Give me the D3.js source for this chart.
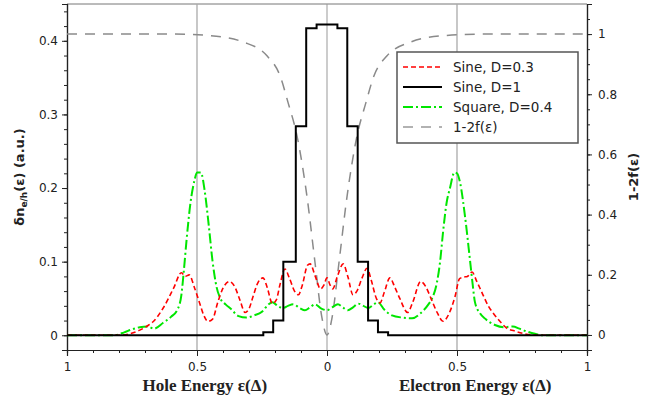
<!DOCTYPE html>
<html>
<head>
<meta charset="utf-8">
<script src="https://cdn.jsdelivr.net/npm/d3@7"></script>
<style>
  body { margin: 0; background: #fff; }
  svg { display: block; }
  .tick text { font-family: "DejaVu Sans", sans-serif; font-size: 12px; fill: #222; }
  .domain { stroke: #222; stroke-width: 1.2; }
  .tick line { stroke: #222; }
</style>
</head>
<body>
<div id="chart"></div>
<script>
// ===== Data =====
// energy axis: negative = hole side, positive = electron side (units of Delta)
const sineD1 = [ // step curve, value held until next point
  [-1, 0], [-0.245, 0.004], [-0.207, 0.02], [-0.168, 0.1], [-0.12, 0.284],
  [-0.08, 0.417], [-0.04, 0.422], [0.04, 0.417], [0.078, 0.284], [0.118, 0.1],
  [0.158, 0.02], [0.196, 0.004], [0.235, 0], [1, 0]
];

const sineD03 = [
  [-1, 0], [-0.8, 0], [-0.76, 0.002], [-0.72, 0.007], [-0.69, 0.013], [-0.67, 0.018],
  [-0.63, 0.037], [-0.59, 0.064], [-0.56, 0.085], [-0.545, 0.08], [-0.53, 0.082],
  [-0.51, 0.065], [-0.49, 0.044], [-0.475, 0.028], [-0.458, 0.019], [-0.44, 0.022],
  [-0.42, 0.045], [-0.4, 0.064], [-0.375, 0.073], [-0.355, 0.066], [-0.335, 0.048],
  [-0.315, 0.031], [-0.3, 0.036], [-0.285, 0.052], [-0.265, 0.072], [-0.246, 0.078],
  [-0.23, 0.065], [-0.21, 0.043], [-0.195, 0.048], [-0.18, 0.07], [-0.162, 0.09],
  [-0.145, 0.078], [-0.125, 0.06], [-0.11, 0.055], [-0.095, 0.068], [-0.075, 0.095],
  [-0.065, 0.097], [-0.045, 0.08], [-0.025, 0.063], [-0.012, 0.068], [0, 0.078],
  [0.012, 0.068], [0.022, 0.063], [0.04, 0.08], [0.062, 0.097], [0.08, 0.08],
  [0.1, 0.055], [0.115, 0.06], [0.135, 0.078], [0.154, 0.091], [0.17, 0.075],
  [0.19, 0.05], [0.204, 0.044], [0.22, 0.058], [0.242, 0.078], [0.26, 0.066],
  [0.28, 0.05], [0.31, 0.031], [0.33, 0.045], [0.36, 0.073], [0.38, 0.066],
  [0.4, 0.05], [0.425, 0.03], [0.446, 0.019], [0.47, 0.03], [0.492, 0.052],
  [0.51, 0.077], [0.525, 0.079], [0.54, 0.08], [0.558, 0.086], [0.575, 0.074],
  [0.596, 0.058], [0.62, 0.04], [0.646, 0.027], [0.67, 0.017], [0.69, 0.01],
  [0.72, 0.006], [0.76, 0.002], [0.8, 0], [1, 0]
];

const squareD04 = [
  [-1, 0], [-0.82, 0], [-0.78, 0.004], [-0.75, 0.008], [-0.72, 0.011], [-0.69, 0.012],
  [-0.665, 0.009], [-0.63, 0.017], [-0.6, 0.025], [-0.575, 0.035], [-0.56, 0.055],
  [-0.55, 0.09], [-0.54, 0.13], [-0.525, 0.18], [-0.51, 0.21], [-0.5, 0.221],
  [-0.485, 0.221], [-0.47, 0.195], [-0.455, 0.15], [-0.44, 0.1], [-0.425, 0.066],
  [-0.41, 0.05], [-0.39, 0.042], [-0.37, 0.036], [-0.34, 0.026], [-0.31, 0.024],
  [-0.28, 0.027], [-0.25, 0.032], [-0.225, 0.042], [-0.21, 0.045], [-0.19, 0.04],
  [-0.17, 0.037], [-0.15, 0.04], [-0.13, 0.042], [-0.105, 0.037], [-0.085, 0.034],
  [-0.065, 0.038], [-0.046, 0.042], [-0.025, 0.037], [0, 0.034], [0.02, 0.038],
  [0.042, 0.042], [0.06, 0.038], [0.08, 0.034], [0.1, 0.038], [0.12, 0.043],
  [0.14, 0.04], [0.158, 0.037], [0.18, 0.042], [0.196, 0.045], [0.22, 0.035],
  [0.25, 0.027], [0.29, 0.024], [0.327, 0.023], [0.36, 0.03], [0.39, 0.042],
  [0.404, 0.05], [0.423, 0.072], [0.435, 0.1], [0.446, 0.139], [0.46, 0.18],
  [0.473, 0.2], [0.49, 0.221], [0.5, 0.22], [0.512, 0.207], [0.531, 0.161],
  [0.55, 0.102], [0.56, 0.07], [0.569, 0.045], [0.588, 0.03], [0.61, 0.022],
  [0.646, 0.014], [0.68, 0.011], [0.715, 0.012], [0.74, 0.009], [0.77, 0.005],
  [0.8, 0.002], [0.83, 0], [1, 0]
];

// 1-2f(eps), right axis
const fermi = [
  [-1, 1], [-0.6, 1], [-0.45, 0.995], [-0.32, 0.973], [-0.23, 0.927], [-0.18, 0.86],
  [-0.15, 0.773], [-0.115, 0.66], [-0.077, 0.46], [-0.046, 0.24], [-0.02, 0.06], [0, 0],
  [0.02, 0.06], [0.046, 0.24], [0.077, 0.46], [0.115, 0.66], [0.15, 0.773],
  [0.18, 0.86], [0.23, 0.927], [0.32, 0.973], [0.45, 0.995], [0.6, 1], [1, 1]
];

const xMajor = [-1, -0.5, 0, 0.5, 1];
const yLeftMajor = [0, 0.1, 0.2, 0.3, 0.4];
const yRightMajor = [0, 0.2, 0.4, 0.6, 0.8, 1];
const gridX = [-0.5, 0, 0.5];

const legendItems = [
  { label: "Sine, D=0.3", color: "#ff0000", dash: "5,3", width: 1.6 },
  { label: "Sine, D=1", color: "#000000", dash: null, width: 2 },
  { label: "Square, D=0.4", color: "#00e600", dash: "10,3,2,3", width: 2 },
  { label: "1-2f(\u025B)", color: "#999999", dash: "10,8", width: 1.5 }
];

// ===== SVG config =====
const W = 662, H = 400;
const M = { top: 4, right: 75, bottom: 50, left: 67 };
const innerW = W - M.left - M.right;
const innerH = H - M.top - M.bottom;

const svg = d3.select("#chart").append("svg").attr("width", W).attr("height", H);
const g = svg.append("g").attr("transform", `translate(${M.left},${M.top})`);

const x = d3.scaleLinear().domain([-1, 1]).range([0, innerW]);
const yL = d3.scaleLinear().domain([-0.02, 0.45]).range([innerH, 0]);
const yR = d3.scaleLinear().domain([-0.05, 1.1]).range([innerH, 0]);

g.append("clipPath").attr("id", "clip")
  .append("rect").attr("width", innerW).attr("height", innerH);

// top border
g.append("line").attr("x1", 0).attr("x2", innerW).attr("y1", 0).attr("y2", 0)
  .attr("stroke", "#777").attr("stroke-width", 1);

// vertical guide lines
g.selectAll(".vgrid").data(gridX).enter().append("line")
  .attr("x1", d => x(d)).attr("x2", d => x(d))
  .attr("y1", 0).attr("y2", innerH)
  .attr("stroke", d => d === 0 ? "#999" : "#aaa")
  .attr("stroke-width", d => d === 0 ? 1 : 1.3);

// ===== Axes =====
const fmtAbs = d => d3.format("~g")(Math.abs(d));
const minorX = d3.range(-10, 11).map(i => i / 10);
const minorL = d3.range(-1, 23).map(i => i * 0.02);
const minorR = d3.range(-1, 23).map(i => i * 0.05);

g.append("g").attr("transform", `translate(0,${innerH})`)
  .call(d3.axisBottom(x).tickValues(minorX).tickSize(3).tickFormat(""));
g.append("g").attr("transform", `translate(0,${innerH})`)
  .call(d3.axisBottom(x).tickValues(xMajor).tickSize(6).tickPadding(6).tickFormat(fmtAbs));

g.append("g")
  .call(d3.axisLeft(yL).tickValues(minorL).tickSize(3).tickFormat(""));
g.append("g")
  .call(d3.axisLeft(yL).tickValues(yLeftMajor).tickSize(5).tickPadding(4).tickFormat(d3.format("~g")));

g.append("g").attr("transform", `translate(${innerW},0)`)
  .call(d3.axisRight(yR).tickValues(minorR).tickSize(3).tickFormat(""));
g.append("g").attr("transform", `translate(${innerW},0)`)
  .call(d3.axisRight(yR).tickValues(yRightMajor).tickSize(5).tickPadding(6).tickFormat(d3.format("~g")));

g.selectAll(".domain").attr("stroke-width", 1.4);

// ===== Curves =====
const plot = g.append("g").attr("clip-path", "url(#clip)");

const lineR = d3.line().x(d => x(d[0])).y(d => yR(d[1])).curve(d3.curveMonotoneX);
const lineL = d3.line().x(d => x(d[0])).y(d => yL(d[1])).curve(d3.curveMonotoneX);
const lineStep = d3.line().x(d => x(d[0])).y(d => yL(d[1])).curve(d3.curveStepAfter);

plot.append("path").datum(fermi).attr("d", lineR)
  .attr("fill", "none").attr("stroke", "#8a8a8a").attr("stroke-width", 1.5)
  .attr("stroke-dasharray", "10,8");

plot.append("path").datum(squareD04).attr("d", lineL)
  .attr("fill", "none").attr("stroke", "#00e600").attr("stroke-width", 2)
  .attr("stroke-dasharray", "10,3,2,3");

plot.append("path").datum(sineD03).attr("d", lineL)
  .attr("fill", "none").attr("stroke", "#ff0000").attr("stroke-width", 1.6)
  .attr("stroke-dasharray", "5,3");

plot.append("path").datum(sineD1).attr("d", lineStep)
  .attr("fill", "none").attr("stroke", "#000").attr("stroke-width", 2);

// ===== Axis titles =====
const yt = svg.append("text")
  .attr("transform", `translate(24,${M.top + innerH / 2}) rotate(-90)`)
  .attr("text-anchor", "middle")
  .style("font-family", "DejaVu Sans, sans-serif")
  .style("font-size", "13px").style("font-weight", "bold").style("fill", "#222");
yt.append("tspan").text("\u03B4n");
yt.append("tspan").attr("dy", 3).style("font-size", "9px").text("e/h");
yt.append("tspan").attr("dy", -3).text("(\u03B5) (a.u.)");

svg.append("text")
  .attr("transform", `translate(638,${M.top + innerH / 2}) rotate(-90)`)
  .attr("text-anchor", "middle")
  .style("font-family", "DejaVu Sans, sans-serif")
  .style("font-size", "13px").style("font-weight", "bold").style("fill", "#222")
  .text("1-2f(\u03B5)");

const bottomTitles = [
  { text: "Hole Energy  \u025B(\u0394)", at: -0.47 },
  { text: "Electron Energy  \u025B(\u0394)", at: 0.57 }
];
svg.selectAll(".xtitle").data(bottomTitles).enter().append("text")
  .attr("x", d => M.left + x(d.at))
  .attr("y", 391)
  .attr("text-anchor", "middle")
  .style("font-family", "Liberation Serif, serif")
  .style("font-size", "17px").style("font-weight", "bold").style("fill", "#222")
  .text(d => d.text);

// ===== Legend =====
const legend = svg.append("g").attr("transform", "translate(397,52)");
legend.append("rect").attr("width", 181).attr("height", 91)
  .attr("fill", "#fff").attr("stroke", "#555").attr("stroke-width", 1.5);

const li = legend.selectAll(".li").data(legendItems).enter().append("g")
  .attr("transform", (_, i) => `translate(0,${15 + i * 20})`);
li.append("line").attr("x1", 6).attr("x2", 45)
  .attr("stroke", d => d.color).attr("stroke-width", d => d.width)
  .attr("stroke-dasharray", d => d.dash);
li.append("text").attr("x", 56).attr("y", 5)
  .style("font-family", "DejaVu Sans, sans-serif").style("font-size", "13.5px").style("fill", "#222")
  .text(d => d.label);
</script>
</body>
</html>
